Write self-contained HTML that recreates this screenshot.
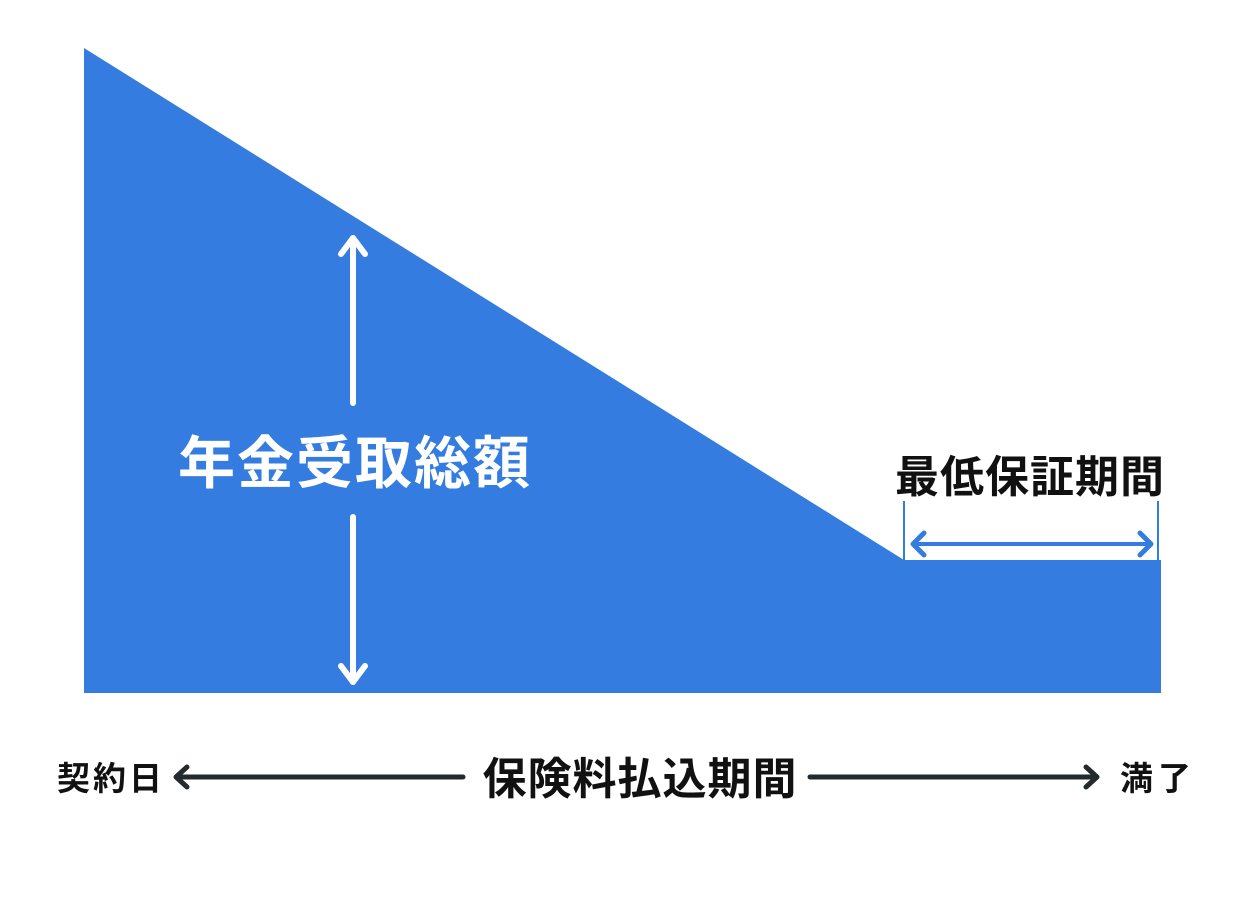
<!DOCTYPE html>
<html><head><meta charset="utf-8"><style>
html,body{margin:0;padding:0;background:#fff;width:1251px;height:917px;overflow:hidden}
svg{display:block}
text{font-family:"Liberation Sans","Noto Sans CJK JP",sans-serif}
</style></head><body>
<svg width="1251" height="917" viewBox="0 0 1251 917" xmlns="http://www.w3.org/2000/svg">
<polygon points="84,48 904,560 1161,560 1161,693 84,693" fill="#357ce0"/>
<g stroke="#fff" stroke-width="6" fill="none" stroke-linecap="round" stroke-linejoin="round">
<line x1="353" y1="238" x2="353" y2="403"/>
<polyline points="341,254 353,238 365,254"/>
<line x1="353" y1="517" x2="353" y2="682"/>
<polyline points="341,666 353,682 365,666"/>
</g>
<text x="355" y="483" text-anchor="middle" font-size="57" font-weight="bold" fill="#fff" letter-spacing="2">年金受取総額</text>
<text x="1030" y="492" text-anchor="middle" font-size="44" font-weight="bold" fill="#111" letter-spacing="1">最低保証期間</text>
<g stroke="#357ce0" fill="none">
<line x1="904" y1="501" x2="904" y2="560" stroke-width="2"/>
<line x1="1158" y1="501" x2="1158" y2="560" stroke-width="2"/>
<line x1="914" y1="544" x2="1150" y2="544" stroke-width="4"/>
<polyline points="924,533 913,544 924,555" stroke-width="5" stroke-linecap="round" stroke-linejoin="round"/>
<polyline points="1140,533 1151,544 1140,555" stroke-width="5" stroke-linecap="round" stroke-linejoin="round"/>
</g>
<text x="57" y="790" font-size="33" font-weight="bold" fill="#111" letter-spacing="3">契約日</text>
<g stroke="#222a2e" fill="none" stroke-width="5" stroke-linecap="round" stroke-linejoin="round">
<line x1="178" y1="777" x2="463" y2="777"/>
<polyline points="187,767 176,777 187,787"/>
<line x1="810" y1="777" x2="1095" y2="777"/>
<polyline points="1086,767 1097,777 1086,787"/>
</g>
<text x="640" y="794" text-anchor="middle" font-size="44" font-weight="bold" fill="#111" letter-spacing="1">保険料払込期間</text>
<text x="1120" y="790" font-size="33" font-weight="bold" fill="#111" letter-spacing="5">満了</text>
</svg>
</body></html>
